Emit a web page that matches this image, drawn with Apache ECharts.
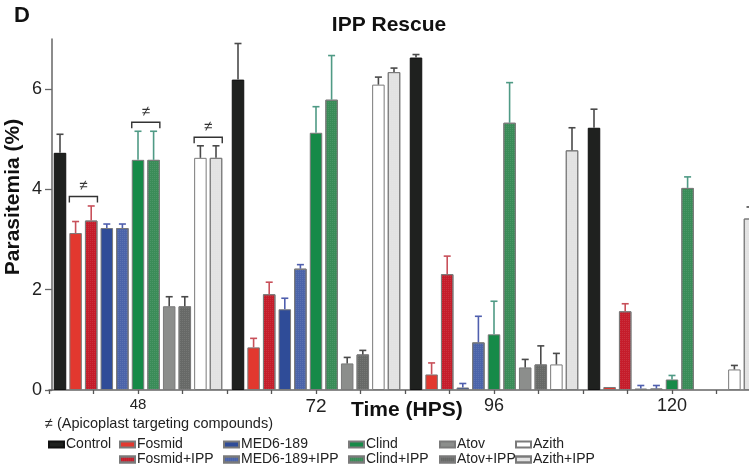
<!DOCTYPE html>
<html>
<head>
<meta charset="utf-8">
<title>IPP Rescue</title>
<script src="https://cdn.jsdelivr.net/npm/echarts@6/dist/echarts.min.js"></script>
<style>
    html, body { margin: 0; padding: 0; background: #fff; }
    #chart-main { width: 749px; height: 470px; }
</style>
</head>
<body>
<div id="chart-main"></div>
<script>
'use strict';

// time points (HPS)
var categories = ['48', '72', '96', '120'];

// mean parasitemia (%) and upper error, per treatment
var control     = [4.73, 6.19, 6.63, 5.23];
var controlErr  = [0.37, 0.72, 0.06, 0.37];
var fosmid      = [3.13, 0.85, 0.31, 0.06];
var fosmidErr   = [0.23, 0.18, 0.23, 0];
var fosmidIpp   = [3.38, 1.91, 2.31, 1.57];
var fosmidIppErr= [0.29, 0.24, 0.36, 0.15];
var med6        = [3.23, 1.61, 0.05, 0.03];
var med6Err     = [0.08, 0.22, 0.08, 0.06];
var med6Ipp     = [3.23, 2.42, 0.95, 0.03];
var med6IppErr  = [0.08, 0.08, 0.52, 0.06];
var clind       = [4.59, 5.13, 1.11, 0.21];
var clindErr    = [0.57, 0.52, 0.66, 0.08];
var clindIpp    = [4.59, 5.79, 5.33, 4.03];
var clindIppErr = [0.57, 0.88, 0.80, 0.22];
var atov        = [1.67, 0.53, 0.45, null];
var atovErr     = [0.19, 0.12, 0.16, null];
var atovIpp     = [1.67, 0.71, 0.51, null];
var atovIppErr  = [0.19, 0.08, 0.37, null];
var azith       = [4.63, 6.09, 0.51, 0.41];
var azithErr    = [0.24, 0.15, 0.22, 0.08];
var azithIpp    = [4.63, 6.34, 4.78, 3.42];
var azithIppErr = [0.24, 0.08, 0.45, 0.23];

// "≠" brackets: [time index, first series, second series, bracket level]
var brackets = [
    [0, 1, 2, 3.86],
    [0, 5, 6, 5.34],
    [0, 9, 10, 5.04]
];

var yTicks = [0, 2, 4, 6];

var names  = ['Control', 'Fosmid', 'Fosmid+IPP', 'MED6-189', 'MED6-189+IPP', 'Clind', 'Clind+IPP', 'Atov', 'Atov+IPP', 'Azith', 'Azith+IPP'];
var values = [control, fosmid, fosmidIpp, med6, med6Ipp, clind, clindIpp, atov, atovIpp, azith, azithIpp];
var errors = [controlErr, fosmidErr, fosmidIppErr, med6Err, med6IppErr, clindErr, clindIppErr, atovErr, atovIppErr, azithErr, azithIppErr];
var fills  = ['#1f211f', '#e2382f', '#c51d2b', '#2f4c98', '#4b64aa', '#168a48', '#3a8c58', '#8c8e8c', '#676967', '#ffffff', '#e2e2e2'];
var errColors = ['#4a4a4a', '#c8505a', '#c8505a', '#4f5fae', '#4f5fae', '#4f9a85', '#4f9a85', '#4a4a4a', '#4a4a4a', '#4a4a4a', '#4a4a4a'];

var FONT = '"Liberation Sans", Arial, sans-serif';
var BAR_W = 12.5;
var BAR_GAP = 3.1;
var PITCH = BAR_W + BAR_GAP;
var MID = (names.length - 1) / 2;

function labelFont(size) {
    return {fontFamily: FONT, fontSize: size, color: '#222'};
}

var series = [];
names.forEach(function (name, i) {
    var style = {
        color: fills[i],
        borderColor: i === 0 ? '#111' : '#7a7a7a',
        borderWidth: 1
    };
    if (name.indexOf('+IPP') > 0) {
        style.decal = {
            symbol: 'rect',
            symbolSize: 1,
            dashArrayX: [1, 1],
            dashArrayY: [1, 1],
            color: 'rgba(255,255,255,0.09)'
        };
    }
    series.push({
        name: name,
        type: 'bar',
        barWidth: BAR_W,
        barGap: (BAR_GAP / BAR_W * 100) + '%',
        itemStyle: style,
        emphasis: {disabled: true},
        data: values[i]
    });
});

// error bars, drawn above each bar
var errData = [];
values.forEach(function (vals, i) {
    vals.forEach(function (v, c) {
        if (v !== null && errors[i][c]) {
            errData.push([c, i, v, errors[i][c]]);
        }
    });
});

series.push({
    name: 'err',
    type: 'custom',
    z: 3,
    encode: {x: 0, y: 2},
    data: errData,
    renderItem: function (params, api) {
        var c = api.value(0), i = api.value(1), v = api.value(2), e = api.value(3);
        var base = api.coord([c, v]);
        var top = api.coord([c, v + e]);
        var x = base[0] + (i - MID) * PITCH;
        var st = {stroke: errColors[i], lineWidth: 1.6};
        return {
            type: 'group',
            children: [
                {type: 'line', shape: {x1: x, y1: base[1], x2: x, y2: top[1]}, style: st},
                {type: 'line', shape: {x1: x - 3.5, y1: top[1], x2: x + 3.5, y2: top[1]}, style: st}
            ]
        };
    }
});

// brackets with the not-equal sign
series.push({
    name: 'brackets',
    type: 'custom',
    z: 3,
    encode: {x: 0, y: 3},
    data: brackets,
    renderItem: function (params, api) {
        var c = api.value(0), a = api.value(1), b = api.value(2), lv = api.value(3);
        var p = api.coord([c, lv]);
        var x1 = p[0] + (a - MID) * PITCH - BAR_W / 2;
        var x2 = p[0] + (b - MID) * PITCH + BAR_W / 2;
        var y = p[1];
        return {
            type: 'group',
            children: [
                {
                    type: 'polyline',
                    shape: {points: [[x1, y + 6], [x1, y], [x2, y], [x2, y + 6]]},
                    style: {stroke: '#333', lineWidth: 1.4, fill: null}
                },
                {
                    type: 'text',
                    style: {
                        x: (x1 + x2) / 2, y: y - 3, text: '≠',
                        align: 'center', verticalAlign: 'bottom',
                        font: '15px ' + FONT, fill: '#333'
                    }
                }
            ]
        };
    }
});

var legendCols = [
    {left: 48, items: ['Control']},
    {left: 119, items: ['Fosmid', 'Fosmid+IPP']},
    {left: 223, items: ['MED6-189', 'MED6-189+IPP']},
    {left: 348, items: ['Clind', 'Clind+IPP']},
    {left: 439, items: ['Atov', 'Atov+IPP']},
    {left: 515, items: ['Azith', 'Azith+IPP']}
];

var legends = legendCols.map(function (col) {
    return {
        left: col.left,
        top: 437,
        orient: 'vertical',
        padding: 0,
        itemGap: 0,
        itemWidth: 15,
        itemHeight: 6,
        icon: 'rect',
        selectedMode: false,
        textStyle: {fontFamily: FONT, fontSize: 14, color: '#222', padding: [0, 0, 0, -3], lineHeight: 15},
        data: col.items
    };
});

var option = {
    animation: false,
    backgroundColor: '#fff',
    title: {
        text: 'IPP Rescue',
        left: 384,
        textAlign: 'center',
        top: 10,
        textStyle: {fontFamily: FONT, fontSize: 21, fontWeight: 'bold', color: '#111'}
    },
    legend: legends,
    // the plot runs past the right edge of the figure, as in the original
    grid: {left: 49, right: -12, top: 39, bottom: 80, outerBoundsMode: 'none', containLabel: false},
    xAxis: [
        {
            type: 'category',
            data: categories,
            axisLine: {lineStyle: {color: '#666', width: 1.5}},
            axisTick: {show: false},
            axisLabel: {
                fontFamily: FONT, fontSize: 18, color: '#222', margin: 7,
                // label sizes differ slightly in the original figure
                formatter: function (v, idx) {
                    return '{' + (idx === 0 ? 's' : idx === 1 ? 'b' : 'm') + '|' + v + '}';
                },
                rich: {
                    s: labelFont(15),
                    b: labelFont(19),
                    m: labelFont(18)
                }
            }
        },
        {
            // small ticks along the time axis
            type: 'value',
            min: 0,
            max: 4,
            interval: 0.25,
            position: 'bottom',
            axisLine: {show: false},
            axisTick: {length: 4, lineStyle: {color: '#555', width: 1.3}},
            axisLabel: {show: false},
            splitLine: {show: false}
        }
    ],
    yAxis: {
        type: 'value',
        min: 0,
        max: 7,
        offset: -3,
        axisLine: {show: true, lineStyle: {color: '#666', width: 1.5}},
        axisTick: {show: true, length: 7, customValues: yTicks, lineStyle: {color: '#666', width: 1.3}},
        axisLabel: {fontFamily: FONT, fontSize: 18, color: '#222', margin: 10, customValues: yTicks},
        splitLine: {show: false}
    },
    graphic: [
        {
            type: 'text', left: 14, top: 5,
            style: {text: 'D', font: 'bold 22px ' + FONT, fill: '#111'}
        },
        {
            type: 'text', x: 13, y: 197, rotation: Math.PI / 2,
            style: {
                text: 'Parasitemia (%)', font: 'bold 21px ' + FONT, fill: '#111',
                align: 'center', verticalAlign: 'middle'
            }
        },
        {
            type: 'text', left: 351, top: 400,
            style: {text: 'Time (HPS)', font: 'bold 21px ' + FONT, fill: '#111'}
        },
        {
            type: 'text', left: 45, top: 416,
            style: {text: '≠ (Apicoplast targeting compounds)', font: '14.5px ' + FONT, fill: '#222'}
        }
    ],
    series: series
};

var myChart = echarts.init(document.getElementById('chart-main'), null, {renderer: 'canvas'});
myChart.setOption(option);
</script>
</body>
</html>
